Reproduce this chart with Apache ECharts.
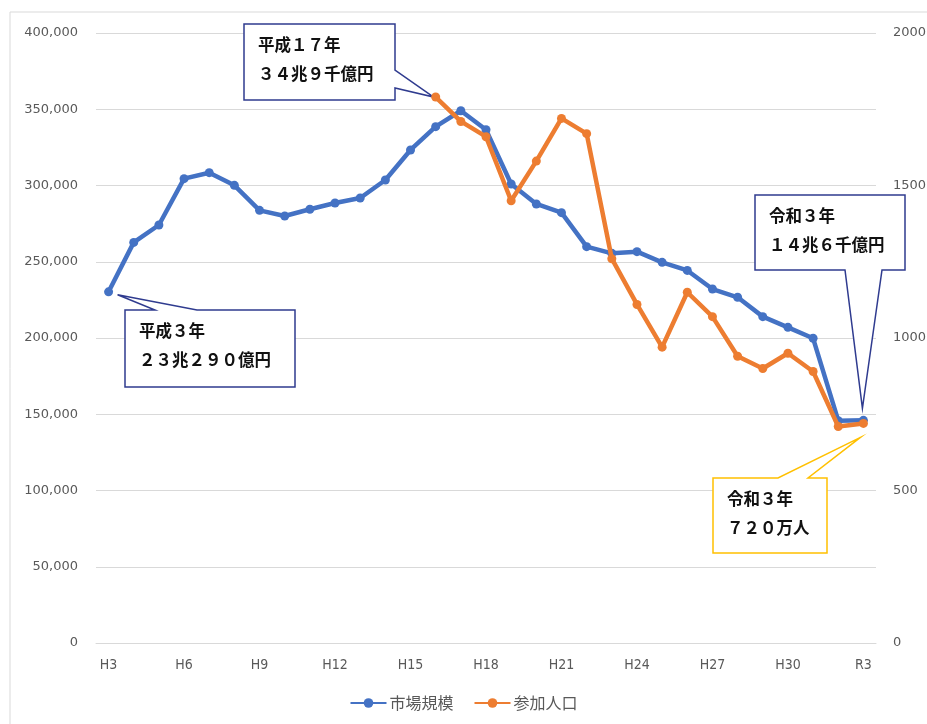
<!DOCTYPE html>
<html><head><meta charset="utf-8">
<script src="https://cdn.jsdelivr.net/npm/echarts@6/dist/echarts.min.js"></script>
<style>html,body{margin:0;padding:0;background:#fff}#c{width:927px;height:724px}</style>
</head><body><div id="c"></div>
<script>
// ---- data ----
const categories = ['H3','H4','H5','H6','H7','H8','H9','H10','H11','H12','H13','H14','H15','H16','H17','H18','H19','H20','H21','H22','H23','H24','H25','H26','H27','H28','H29','H30','R1','R2','R3'];
// 市場規模（億円）
const marketSize = [230290,262700,274100,304500,308400,300100,283700,280000,284400,288500,291800,303600,323300,338600,349000,336600,301000,287900,282200,259900,255500,256600,249600,244300,232100,226700,214000,207000,199800,145800,146000];
// 参加人口（万人）
const participants = [null,null,null,null,null,null,null,null,null,null,null,null,null,1790,1710,1660,1450,1580,1720,1670,1260,1110,970,1150,1070,940,900,950,890,710,720];
const leftAxisTicks = {min:0, max:400000, interval:50000};
const rightAxisTicks = {min:0, max:2000, interval:500};
const seriesNames = ['市場規模','参加人口'];
const callouts = [
  {lines:['平成３年','２３兆２９０億円'], series:0, index:0},
  {lines:['平成１７年','３４兆９千億円'], series:1, index:13},
  {lines:['令和３年','１４兆６千億円'], series:0, index:30},
  {lines:['令和３年','７２０万人'], series:1, index:30}
];

const chart = echarts.init(document.getElementById('c'));
const axisText = {color:'#595959', fontFamily:'DejaVu Sans', fontSize:13};
chart.setOption({
  animation:false,
  backgroundColor:'#fff',
  grid:{left:96, right:51, top:33, bottom:81, containLabel:false, outerBoundsMode:'none'},
  legend:{
    data:seriesNames, top:690, left:'center', itemWidth:36, itemHeight:12, itemGap:20,
    textStyle:{color:'#595959', fontSize:16, fontFamily:'"Noto Sans CJK JP"', padding:[0,0,0,-2]}
  },
  xAxis:{
    type:'category', data:categories, boundaryGap:true,
    axisLine:{show:true, lineStyle:{color:'#d9d9d9', width:1}},
    axisTick:{show:false},
    axisLabel:{interval:2, color:'#595959', fontSize:14, fontFamily:'"Liberation Sans Narrow","DejaVu Sans Condensed",sans-serif', margin:15}
  },
  yAxis:[
    {type:'value', min:leftAxisTicks.min, max:leftAxisTicks.max, interval:leftAxisTicks.interval,
     axisLine:{show:false}, axisTick:{show:false},
     splitLine:{lineStyle:{color:'#d9d9d9', width:1}},
     axisLabel:Object.assign({margin:18, formatter:v=>v.toLocaleString('en-US')}, axisText)},
    {type:'value', min:rightAxisTicks.min, max:rightAxisTicks.max, interval:rightAxisTicks.interval,
     axisLine:{show:false}, axisTick:{show:false}, splitLine:{show:false},
     axisLabel:Object.assign({margin:17, formatter:v=>String(v)}, axisText)}
  ],
  series:[
    {name:seriesNames[0], type:'line', data:marketSize, yAxisIndex:0, color:'#4472c4',
     lineStyle:{width:4.5, color:'#4472c4'}, symbol:'circle', symbolSize:9, itemStyle:{color:'#4472c4'},
     emphasis:{disabled:true}, z:3},
    {name:seriesNames[1], type:'line', data:participants, yAxisIndex:1, color:'#ed7d31',
     lineStyle:{width:4.5, color:'#ed7d31'}, symbol:'circle', symbolSize:9, itemStyle:{color:'#ed7d31'},
     emphasis:{disabled:true}, z:4}
  ]
});

// ---- callout layout (boxes placed by layout, pointer tips from the data points) ----
const dataSets = [marketSize, participants];
function pt(c){ return chart.convertToPixel({seriesIndex:c.series}, [c.index, dataSets[c.series][c.index]]); }
const layouts = [
  {box:[125,310,170,77], edge:'top', from:155, to:197, off:[9,3], color:'#2f3b8f'},
  {box:[244,24,151,76], edge:'right', from:70, to:88, off:[-2,0], color:'#2f3b8f'},
  {box:[755,195,150,75], edge:'bottom', from:845, to:882, off:[-1,-12], color:'#2f3b8f'},
  {box:[713,478,114,75], edge:'top', from:778, to:808, off:[-3,14], color:'#ffc000'}
];
const g = [{type:'rect', shape:{x:10, y:12, width:940, height:740}, style:{fill:'none', stroke:'#d9d9d9', lineWidth:1}, z:0, silent:true}];
callouts.forEach((c,i)=>{
  const L = layouts[i]; const [x,y,w,h] = L.box; const p = pt(c);
  const a = [p[0]+L.off[0], p[1]+L.off[1]];
  let pts;
  if (L.edge==='top') pts=[[x,y],[L.from,y],a,[L.to,y],[x+w,y],[x+w,y+h],[x,y+h]];
  else if (L.edge==='right') pts=[[x,y],[x+w,y],[x+w,L.from],a,[x+w,L.to],[x+w,y+h],[x,y+h]];
  else pts=[[x,y],[x+w,y],[x+w,y+h],[L.to,y+h],a,[L.from,y+h],[x,y+h]];
  g.push({type:'polygon', shape:{points:pts}, style:{fill:'#fff', stroke:L.color, lineWidth:1.5}, z:1, silent:true});
  c.lines.forEach((t,j)=>{
    g.push({type:'text', x:x+14, y:y+21+j*29, z:2, silent:true,
      style:{text:t, fill:'#111', font:'bold 16.5px "Noto Sans CJK JP"', verticalAlign:'middle', align:'left'}});
  });
});
chart.setOption({graphic:g});
</script></body></html>
